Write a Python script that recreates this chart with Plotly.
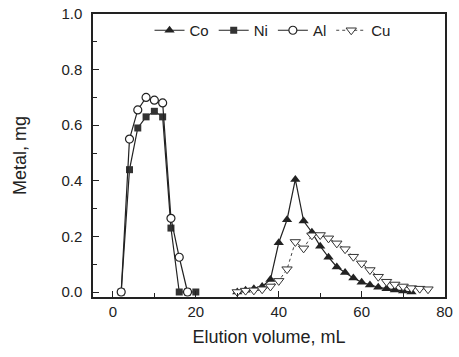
import plotly.graph_objects as go

ni_x = [2, 4, 6, 8, 10, 12, 14, 16, 18, 20]
ni_y = [0.0, 0.44, 0.59, 0.63, 0.65, 0.63, 0.23, 0.0, 0.0, 0.0]

al_x = [2, 4, 6, 8, 10, 12, 14, 16, 18]
al_y = [0.0, 0.55, 0.655, 0.70, 0.69, 0.68, 0.265, 0.125, 0.0]

co_x = [30, 32, 34, 36, 38, 40, 42, 44, 46, 48, 50, 52, 54, 56, 58, 60, 62, 64, 66, 68, 70, 72]
co_y = [0.0, 0.006, 0.012, 0.02, 0.045, 0.177, 0.26, 0.405, 0.255, 0.215, 0.165, 0.125,
        0.09, 0.07, 0.05, 0.035, 0.025, 0.017, 0.012, 0.007, 0.004, 0.0]

cu_x = [30, 32, 34, 36, 38, 40, 42, 44, 46, 48, 50, 52, 54, 56, 58, 60, 62, 64, 66, 68, 70, 72, 74, 76]
cu_y = [0.0, 0.005, 0.006, 0.01, 0.02, 0.04, 0.082, 0.18, 0.157, 0.204, 0.205, 0.193,
        0.175, 0.154, 0.127, 0.103, 0.079, 0.055, 0.037, 0.027, 0.02, 0.014, 0.012, 0.01]

x_ticks = [0, 20, 40, 60, 80]
y_ticks = [0.0, 0.2, 0.4, 0.6, 0.8, 1.0]

font = "Liberation Sans, Arial, sans-serif"
fig = go.Figure()
fig.add_trace(go.Scatter(x=co_x, y=co_y, name="Co", mode="lines+markers",
                         line=dict(color="#222", width=1.2),
                         marker=dict(symbol="triangle-up", size=9, color="#222")))
fig.add_trace(go.Scatter(x=ni_x, y=ni_y, name="Ni", mode="lines+markers",
                         line=dict(color="#222", width=1.2),
                         marker=dict(symbol="square", size=7, color="#333")))
fig.add_trace(go.Scatter(x=al_x, y=al_y, name="Al", mode="lines+markers",
                         line=dict(color="#222", width=1.2),
                         marker=dict(symbol="circle", size=8, color="white",
                                     line=dict(color="#222", width=1.2))))
fig.add_trace(go.Scatter(x=cu_x, y=cu_y, name="Cu", mode="lines+markers",
                         line=dict(color="#444", width=1, dash="dot"),
                         marker=dict(symbol="triangle-down", size=9, color="white",
                                     line=dict(color="#333", width=1))))

fig.update_layout(
    width=459, height=357,
    margin=dict(l=93, r=14, t=14, b=60, autoexpand=False),
    paper_bgcolor="white", plot_bgcolor="white",
    font=dict(family=font, size=15, color="#222"),
    showlegend=True,
    legend=dict(orientation="h", x=0.51, y=1.0, xanchor="center", yanchor="top",
                bgcolor="rgba(0,0,0,0)", font=dict(size=15), itemwidth=30,
                tracegroupgap=0),
    xaxis=dict(range=[-4.8, 80.1], tickvals=x_ticks, ticks="inside", ticklen=6,
               tickcolor="#222", showline=True, linecolor="#222", linewidth=1.5,
               mirror=True, showgrid=False, zeroline=False,
               minor=dict(ticks="inside", ticklen=4, dtick=10, tickcolor="#222"),
               title=dict(text="Elution volume, mL", standoff=12),
               tickfont=dict(size=15)),
    yaxis=dict(range=[-0.018, 1.0], tickvals=y_ticks, tickformat=".1f",
               ticks="inside", ticklen=6, tickcolor="#222",
               showline=True, linecolor="#222", linewidth=1.5, mirror=True,
               showgrid=False, zeroline=False,
               minor=dict(ticks="inside", ticklen=4, dtick=0.1, tickcolor="#222"),
               title=dict(text="Metal, mg", standoff=30),
               ticklabelstandoff=6, tickfont=dict(size=15)),
)

fig.write_html("out.html", config={"displayModeBar": False},
               post_script="document.body.style.margin='0';document.body.style.overflow='hidden';")
